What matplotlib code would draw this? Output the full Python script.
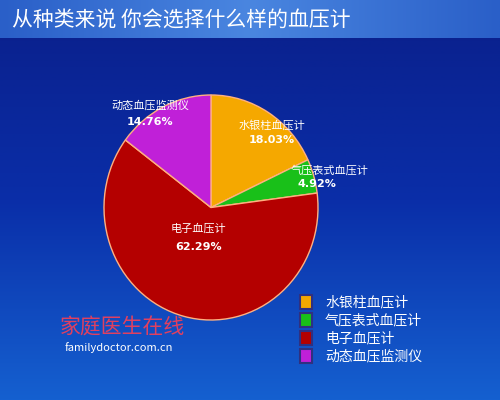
import matplotlib
matplotlib.use("Agg")
import matplotlib.pyplot as plt
import numpy as np
from matplotlib.patches import Rectangle
from matplotlib.colors import LinearSegmentedColormap

plt.rcParams['font.family'] = ['Noto Sans CJK SC', 'DejaVu Sans']

labels = ['水银柱血压计', '气压表式血压计', '电子血压计', '动态血压监测仪']
values = [18.03, 4.92, 62.29, 14.76]
colors = ['#f5a800', '#19c019', '#b40000', '#c020d8']
title = '从种类来说 你会选择什么样的血压计'

fig = plt.figure(figsize=(5, 4), dpi=100)
bg = fig.add_axes([0, 0, 1, 1]); bg.set_axis_off()
grad = np.linspace(0, 1, 256).reshape(-1, 1)
cm = LinearSegmentedColormap.from_list('b', ['#0a1f8a', '#0a2ea8', '#1560d0'])
bg.imshow(grad, aspect='auto', cmap=cm, extent=[0, 1, 0, 1], origin='upper')
cm2 = LinearSegmentedColormap.from_list('t', ['#2a5fc8', '#4a86e0', '#2a5fc8'])
bg.imshow(np.linspace(0, 1, 256).reshape(1, -1), aspect='auto', cmap=cm2, extent=[0, 1, 0.905, 1])
bg.set_xlim(0, 1); bg.set_ylim(0, 1)
bg.text(0.025, 0.952, title, color='white', fontsize=15, va='center', ha='left')

ax = fig.add_axes([0.208, 0.2, 0.428, 0.5625])
wedges, _ = ax.pie(values, colors=colors, startangle=90, counterclock=False,
                   wedgeprops=dict(edgecolor='#ffb080', linewidth=1))
ax.set_aspect('auto')
ax.set_xlim(-1, 1); ax.set_ylim(-1, 1)
lpos = [(0.57, 0.73), (1.11, 0.33), (-0.12, -0.19), (-0.57, 0.91)]
ppos = [(0.57, 0.6), (0.99, 0.21), (-0.12, -0.35), (-0.57, 0.76)]
for (x, y), (px, py), l, v in zip(lpos, ppos, labels, values):
    ax.text(x, y, l, color='white', fontsize=8, ha='center', va='center')
    ax.text(px, py, f'{v:.2f}%', color='white', fontsize=8, fontweight='bold',
            family='DejaVu Sans', ha='center', va='center')

ly = [0.245, 0.2, 0.155, 0.11]
for y, l, c in zip(ly, labels, colors):
    bg.add_patch(Rectangle((0.6, y - 0.018), 0.024, 0.036, facecolor=c, edgecolor='#303080', linewidth=1.5))
    bg.text(0.65, y, l, color='white', fontsize=10, va='center')

bg.text(0.12, 0.18, '家庭医生在线', color='#e04060', fontsize=15, fontstyle='italic', va='center')
bg.text(0.13, 0.13, 'familydoctor.com.cn', color='white', fontsize=8, va='center')

fig.savefig('out.png', dpi=100)
